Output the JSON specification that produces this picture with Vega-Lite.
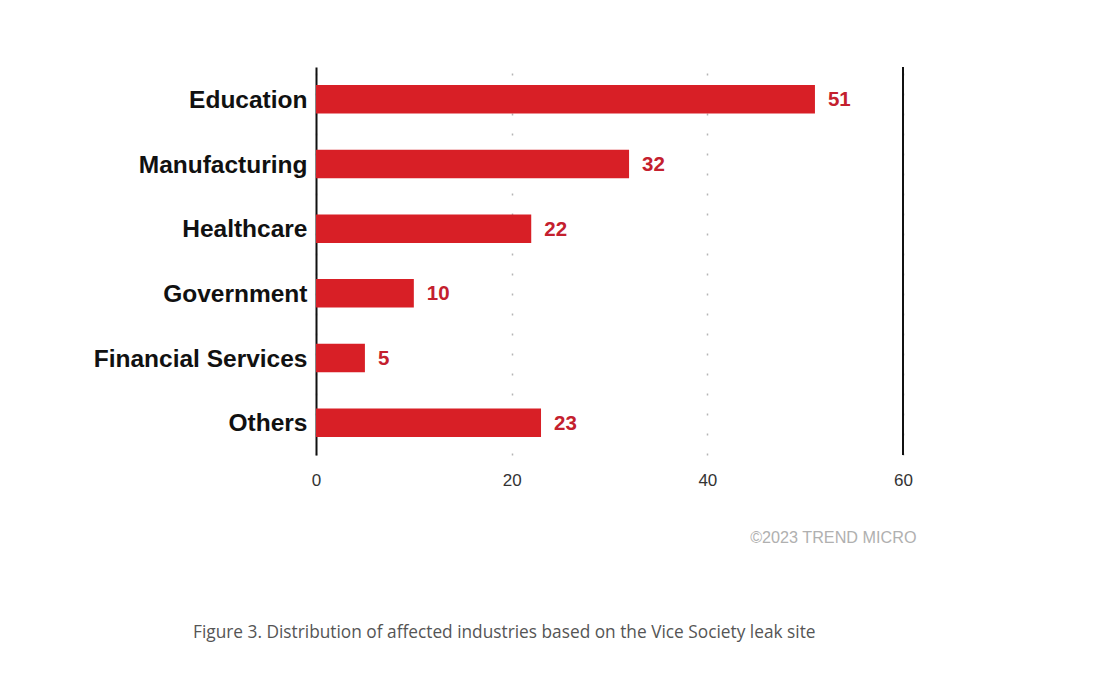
{
  "$schema": "https://vega.github.io/schema/vega-lite/v6.json",
  "autosize": {"type": "none"},
  "width": 587,
  "height": 388,
  "padding": {"left": 316, "top": 67, "right": 212, "bottom": 235},
  "background": "white",
  "config": {"view": {"stroke": null}},
  "title": {
    "text": "Figure 3. Distribution of affected industries based on the Vice Society leak site",
    "orient": "bottom",
    "anchor": "start",
    "frame": "group",
    "dx": -123,
    "offset": 79,
    "font": "Open Sans",
    "fontSize": 17.3,
    "fontWeight": "normal",
    "color": "#555555"
  },
  "data": {
    "values": [
      {"industry": "Education", "count": 51},
      {"industry": "Manufacturing", "count": 32},
      {"industry": "Healthcare", "count": 22},
      {"industry": "Government", "count": 10},
      {"industry": "Financial Services", "count": 5},
      {"industry": "Others", "count": 23}
    ]
  },
  "encoding": {
    "y": {
      "field": "industry",
      "type": "nominal",
      "sort": null,
      "scale": {"paddingInner": 0.56, "paddingOuter": 0.28},
      "axis": {
        "title": null,
        "ticks": false,
        "domain": true,
        "domainColor": "#111111",
        "domainWidth": 2,
        "labelFont": "Liberation Sans",
        "labelFontWeight": "bold",
        "labelFontSize": 24.5,
        "labelColor": "#111111",
        "labelPadding": 9,
        "labelLimit": 0,
        "labelOffset": 1.5
      }
    }
  },
  "layer": [
    {
      "mark": {"type": "bar", "color": "#d81f26"},
      "encoding": {
        "x": {
          "field": "count",
          "type": "quantitative",
          "scale": {"domain": [0, 60]},
          "axis": {
            "values": [0, 20, 40, 60],
            "title": "©2023 TREND MICRO",
            "titleFont": "Liberation Sans",
            "titleFontSize": 16.2,
            "titleFontWeight": "normal",
            "titleColor": "#b0b0b0",
            "titleAnchor": "end",
            "titleAlign": "right",
            "titleBaseline": "middle",
            "titleX": 600,
            "titleY": 82,
            "domain": false,
            "ticks": false,
            "grid": true,
            "gridColor": "#b5b5b5",
            "gridDash": [2, 18],
            "gridWidth": 1.5,
            "labelFont": "Liberation Sans",
            "labelFontSize": 17,
            "labelColor": "#333333",
            "labelPadding": 17,
            "labelFlush": false
          }
        }
      }
    },
    {
      "mark": {"type": "text", "align": "left", "baseline": "middle", "dx": 13, "dy": 1, "font": "Liberation Sans", "fontWeight": "bold", "fontSize": 20.5, "color": "#c4202e"},
      "encoding": {
        "x": {"field": "count", "type": "quantitative"},
        "text": {"field": "count", "type": "quantitative"}
      }
    },
    {
      "mark": {"type": "rule", "color": "#111111", "strokeWidth": 2},
      "encoding": {
        "x": {"datum": 60, "type": "quantitative"},
        "y": {"value": 0},
        "y2": {"value": 388}
      }
    }
  ]
}
